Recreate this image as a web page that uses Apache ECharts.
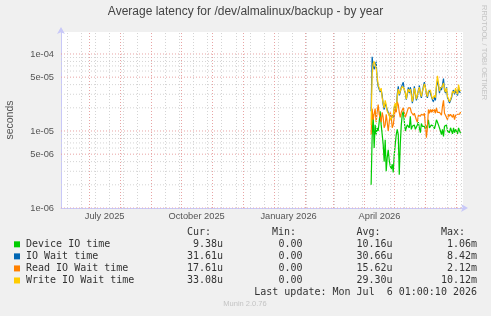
<!DOCTYPE html>
<html><head><meta charset="utf-8">
<script src="https://cdn.jsdelivr.net/npm/echarts@6/dist/echarts.min.js"></script>
<style>html,body{margin:0;padding:0;background:#F0F0F0;}#c{width:491px;height:316px;}</style>
</head><body><div id="c"></div>
<script>
// ---- data (microseconds), one sample per day starting at seriesStart ----
const seriesStart = Date.UTC(2026, 3, 7, 16);
const DAY = 86400000;
const deviceUs = [2.0,8.2,16.5,6.0,12,9,11,10,13,18,12,9,6.7,4,7.7,3.0,4.5,5.7,4.2,3.5,3.2,3.7,2.9,4.9,6.7,9,10.5,9,2.7,6.7,12,16.5,18,17.5,10,11,12,11.5,11,15.5,10.5,11.5,11,12,10.5,11,12,13,11,9.5,12.5,11.5,11,11.5,10.5,10.7,12,14,11,10.5,12,12.5,11.5,10.7,12,14,13,12,11.5,10,9,10.5,8.5,11.5,11,12,10,10.5,9.5,11,10.5,9.2,11,9.5,10.5,10,9.2,11,10,9.38];
const ioWaitUs = [18,92,70,63,70,79,46,38,40,32,34,29,22,19,23,21,19,18,16,15,14,16,15,20,22,18,30,38,29,32,37,40,43,34,31,25.5,30,37,31,37,32,23,27,38,31,25,28,34,39,30,27,32,38,43,37,30,27,32,34,33,28,25.5,24,28,25,37,45,39,31,37,34,40,48,34,31,37,27,25.5,23,22,27,32,34,30,34,31,29,37,32,31.61];
const readUs = [9,19.5,14,16.5,19.5,13,17.5,22,16.5,15,13,17.5,15,11,12,16.5,13,10,13,17.5,15.5,11,12,15,20,17.5,24,22,17.5,15,17.5,16.5,20,17.5,15,16.5,17.5,20,19,20,17.5,17,16,17,16.5,14,13,16,16.5,15.5,16.5,17.5,16,17,16.5,8.2,11,19,17,19,17.5,19,17.5,19,17,20,17.5,16.5,17.5,16.5,16,21,25,17,16,15,14,16.5,15.5,16.5,17,15,16.5,14,16,15.5,16.5,16,16.5,17.61];
const writeUs = [12,55,75,80,72,65,50,40,38,33,36,27,23,20,25,22,18,17,16,14,13.5,15,16,21,23,19,28,35,30,33,35,38,40,35,32,26,31,35,32,35,33,24,28,36,32,26,29,33,37,31,28,33,36,41,36,31,28,33,35,34,29,26,25,29,27,40,52,42,33,36,35,38,42,35,32,36,28,26,24,23,28,33,35,31,36,33,30,40,34,33.08];

const seriesNames = ['Device IO time', 'IO Wait time', 'Read IO Wait time', 'Write IO Wait time'];
const seriesColors = ['#00CC00', '#0066B3', '#FF8000', '#FFCC00'];
const curVals = ['9.38u', '31.61u', '17.61u', '33.08u'];
const minVals = ['0.00', '0.00', '0.00', '0.00'];
const avgVals = ['10.16u', '30.66u', '15.62u', '29.30u'];
const maxVals = ['1.06m', '8.42m', '2.12m', '10.12m'];

// ---- axis ticks / labels ----
const xLabelTexts = ['July 2025', 'October 2025', 'January 2026', 'April 2026'];
const xLabelDates = [Date.UTC(2025,6,16,12), Date.UTC(2025,9,16), Date.UTC(2026,0,15,12), Date.UTC(2026,3,16)];
const yTickVals = [1e-6, 5e-6, 1e-5, 5e-5, 1e-4];
const yTickLabels = ['1e-06', '5e-06', '1e-05', '5e-05', '1e-04'];
const xMin = Date.UTC(2025, 5, 3, 2);
const xMax = xMin + 400 * DAY;
const yMin = 1e-6, yMax = 1.93e-4;

// grid lines
const monthStarts = [];
for (let m = 6; m <= 18; m++) monthStarts.push(Date.UTC(2025, m, 1));
const biweekly = [];
for (let t = Date.UTC(2025,5,9); t < xMax; t += 14 * DAY) biweekly.push(t);
const yMajorGrid = [1e-6, 5e-6, 1e-5, 5e-5, 1e-4];
const yMinorGrid = [];
[1e-6, 1e-5].forEach(d => [2,3,4,6,7,8,9].forEach(k => yMinorGrid.push(k * d)));

const toPairs = arr => arr.map((v, i) => [seriesStart + i * DAY, v * 1e-6]);
const usArrays = [deviceUs, ioWaitUs, readUs, writeUs];

const red = '#E8A4A4', gray = '#D4D4D4';
const vMarks = [];
biweekly.forEach(t => vMarks.push({xAxis: t, lineStyle: {color: gray, type: [1,2], width: 1}}));
monthStarts.forEach(t => vMarks.push({xAxis: t, lineStyle: {color: red, type: [1,2], width: 1}}));

const series = [{
  type: 'line', data: [], silent: true, z: 1,
  markLine: {silent: true, symbol: ['none','none'], label: {show: false}, animation: false, data: vMarks}
}];
// horizontal grid lines spanning the x-axis extent
const hLine = (v, color) => ({type: 'line', data: [[xMin, v], [xMax, v]], silent: true, z: 1, symbol: 'none', showSymbol: false,
  lineStyle: {color: color, type: [1,2], width: 1}, animation: false, tooltip: {show: false}});
yMinorGrid.forEach(v => series.push(hLine(v, gray)));
yMajorGrid.forEach(v => series.push(hLine(v, red)));

usArrays.forEach((arr, i) => series.push({
  name: seriesNames[i], type: 'line', data: toPairs(arr), showSymbol: false, symbol: 'none',
  lineStyle: {color: seriesColors[i], width: 1.2}, itemStyle: {color: seriesColors[i]}, z: 2 + i, animation: false
}));

const mono = '10px "DejaVu Sans Mono"';
const txtColor = '#333';
const graphics = [];
const rowY = [244.3, 256.4, 268.4, 280.4];
const cols = [[223, curVals, 'Cur:', 211], [302.5, minVals, 'Min:', 296], [392.5, avgVals, 'Avg:', 380.5], [477, maxVals, 'Max:', 465]];
cols.forEach(([x, vals, hdr, hx]) => {
  graphics.push({type:'text', x: hx, y: 232.2, style:{text: hdr, font: mono, fill: txtColor, align:'right', verticalAlign:'middle'}});
  vals.forEach((v, i) => graphics.push({type:'text', x: x, y: rowY[i], style:{text: v, font: mono, fill: txtColor, align:'right', verticalAlign:'middle'}}));
});
graphics.push({type:'text', x: 477, y: 292.6, style:{text: 'Last update: Mon Jul  6 01:00:10 2026', font: mono, fill: txtColor, align:'right', verticalAlign:'middle'}});
graphics.push({type:'text', x: 245, y: 304.3, style:{text: 'Munin 2.0.76', font: '7.5px "Liberation Sans"', fill: '#C4C4C4', align:'center', verticalAlign:'middle'}});
graphics.push({type:'text', x: 484, y: 5, rotation: -Math.PI/2, style:{text: 'RRDTOOL / TOBI OETIKER', font: '7.5px "Liberation Sans"', fill: '#C4C4C4', align:'left', verticalAlign:'middle'}});

const chart = echarts.init(document.getElementById('c'), null, {renderer: 'canvas'});
chart.setOption({
  animation: false,
  backgroundColor: '#F0F0F0',
  title: {text: 'Average latency for /dev/almalinux/backup - by year', left: 'center', top: 1,
    textStyle: {fontFamily: 'Liberation Sans', fontSize: 12, fontWeight: 'normal', color: '#444'}},
  grid: {left: 61, right: 28, top: 32, bottom: 108, show: true, backgroundColor: '#FFFFFF', borderWidth: 0,
    containLabel: false, outerBoundsMode: 'none'},
  legend: {orient: 'vertical', left: 14, top: 238.3, padding: 0, itemWidth: 6, itemHeight: 6, itemGap: 0, icon: 'rect',
    data: seriesNames, selectedMode: false,
    textStyle: {fontFamily: 'DejaVu Sans Mono', fontSize: 10, color: txtColor, lineHeight: 12.05, padding: [0,0,0,1]}},
  xAxis: {type: 'value', min: xMin, max: xMax, splitLine: {show: false},
    axisLine: {show: true, lineStyle: {color: '#C8C8F8', width: 1}, symbol: ['none', 'arrow'], symbolSize: [6, 7], symbolOffset: [0, 5]},
    axisTick: {show: false},
    axisLabel: {customValues: xLabelDates, margin: 4, fontFamily: 'Liberation Sans', fontSize: 9.3, color: '#555',
      formatter: v => { let best = 0; xLabelDates.forEach((d, i) => { if (Math.abs(d - v) < Math.abs(xLabelDates[best] - v)) best = i; }); return xLabelTexts[best]; }}},
  yAxis: {type: 'log', logBase: 10, min: yMin, max: yMax, splitLine: {show: false},
    name: 'seconds', nameLocation: 'middle', nameGap: 45, nameRotate: 90,
    nameTextStyle: {fontFamily: 'Liberation Sans', fontSize: 10.5, color: '#555'},
    axisLine: {show: true, lineStyle: {color: '#C8C8F8', width: 1}, symbol: ['none', 'arrow'], symbolSize: [6, 7], symbolOffset: [0, 5]},
    axisTick: {show: false},
    axisLabel: {customValues: yTickVals, margin: 7, fontFamily: 'Liberation Sans', fontSize: 9.3, color: '#555',
      formatter: v => { let best = 0; yTickVals.forEach((d, i) => { if (Math.abs(Math.log(d / v)) < Math.abs(Math.log(yTickVals[best] / v))) best = i; }); return yTickLabels[best]; }}},
  graphic: graphics,
  series: series
});
</script></body></html>
